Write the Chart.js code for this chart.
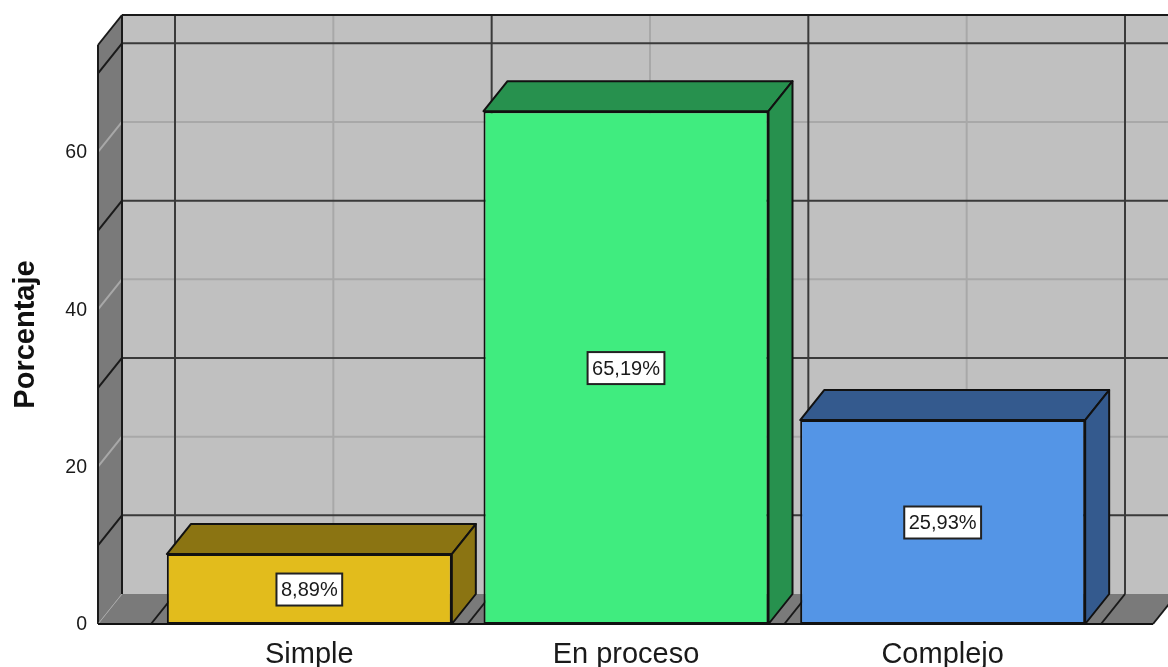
<!DOCTYPE html>
<html>
<head>
<meta charset="utf-8">
<style>
  html, body { margin: 0; background: #fff; overflow: hidden; }
  canvas { display: block; filter: blur(0.4px); }
</style>
<script src="https://cdn.jsdelivr.net/npm/chart.js@4/dist/chart.umd.min.js"></script>
</head>
<body>
<canvas id="chart" width="1168" height="667"></canvas>
<script>
// Data
const categories = ['Simple', 'En proceso', 'Complejo'];
const percentages = [8.89, 65.19, 25.93];
const yTickValues = [0, 20, 40, 60];
const darkGridValues = [10, 30, 50, 70];
const lightGridValues = [20, 40, 60];
const frontColors = ['#e2bc1c', '#40ec7f', '#5495e6'];
const sideColors = ['#8b7412', '#27914e', '#345a8e'];

// Oblique depth of the 3D box
const DX = 24, DY = -30;
const FONT = '"Liberation Sans", Arial, sans-serif';

function poly(ctx, pts, fill, stroke, width) {
    ctx.beginPath();
    pts.forEach((p, i) => i ? ctx.lineTo(p[0], p[1]) : ctx.moveTo(p[0], p[1]));
    ctx.closePath();
    if (fill) { ctx.fillStyle = fill; ctx.fill(); }
    if (stroke) { ctx.strokeStyle = stroke; ctx.lineWidth = width; ctx.stroke(); }
}

function seg(ctx, x1, y1, x2, y2, color, width) {
    ctx.beginPath();
    ctx.moveTo(x1, y1);
    ctx.lineTo(x2, y2);
    ctx.strokeStyle = color;
    ctx.lineWidth = width;
    ctx.stroke();
}

// Walls and floor behind the bars
const box3d = {
    id: 'box3d',
    beforeDatasetsDraw(chart) {
        const { ctx, chartArea: a, scales: { x, y } } = chart;
        const left = a.left - 53, right = a.right + 52;
        const top = a.top, bottom = a.bottom;
        const step = x.getPixelForValue(1) - x.getPixelForValue(0);
        ctx.save();
        ctx.lineJoin = 'round';

        // back wall
        poly(ctx, [[left + DX, top + DY], [right + DX, top + DY], [right + DX, bottom + DY], [left + DX, bottom + DY]], '#c0c0c0');
        // left wall and floor
        poly(ctx, [[left, top], [left + DX, top + DY], [left + DX, bottom + DY], [left, bottom]], '#7a7a7a');
        poly(ctx, [[left, bottom], [left + DX, bottom + DY], [right + DX, bottom + DY], [right, bottom]], '#7a7a7a');

        // horizontal grid lines, back wall and left wall
        lightGridValues.forEach(v => {
            const py = y.getPixelForValue(v);
            seg(ctx, left + DX, py + DY, right + DX, py + DY, '#a8a8a8', 2);
            seg(ctx, left, py, left + DX, py + DY, '#a8a8a8', 2);
        });
        // vertical lines at the category centres, back wall only
        categories.forEach((c, i) => {
            const px = x.getPixelForValue(i);
            seg(ctx, px + DX, top + DY, px + DX, bottom + DY, '#a8a8a8', 2);
        });
        darkGridValues.forEach(v => {
            const py = y.getPixelForValue(v);
            seg(ctx, left + DX, py + DY, right + DX, py + DY, '#3a3a3a', 2);
            seg(ctx, left, py, left + DX, py + DY, '#1a1a1a', 2);
        });
        // vertical lines at the category boundaries
        for (let i = 0; i <= categories.length; i++) {
            const px = x.getPixelForValue(0) + (i - 0.5) * step;
            seg(ctx, px + DX, top + DY, px + DX, bottom + DY, '#3a3a3a', 2);
            seg(ctx, px + DX, bottom + DY, px, bottom, '#1a1a1a', 2);
        }

        // outline of the box
        seg(ctx, left, top, left + DX, top + DY, '#1a1a1a', 2);
        seg(ctx, left + DX, top + DY, left + DX, bottom + DY, '#1a1a1a', 2);
        seg(ctx, left + DX, top + DY, right + DX, top + DY, '#1a1a1a', 2);
        seg(ctx, left, top, left, bottom, '#1a1a1a', 2);
        seg(ctx, left, bottom, left + DX, bottom + DY, '#a8a8a8', 1);
        seg(ctx, left, bottom, right, bottom, '#111', 2);
        seg(ctx, right, bottom, right + DX, bottom + DY, '#1a1a1a', 2);
        ctx.restore();

        // top and side faces of the bars
        ctx.save();
        ctx.lineJoin = 'round';
        chart.getDatasetMeta(0).data.forEach((bar, i) => {
            const l = bar.x - bar.width / 2, r = bar.x + bar.width / 2;
            poly(ctx, [[l, bar.y], [l + DX, bar.y + DY], [r + DX, bar.y + DY], [r, bar.y]], sideColors[i], '#111', 2);
            poly(ctx, [[r, bar.y], [r + DX, bar.y + DY], [r + DX, bar.base + DY], [r, bar.base]], sideColors[i], '#111', 2);
        });
        ctx.restore();
    },
    afterDatasetsDraw(chart) {
        const { ctx } = chart;
        ctx.save();
        ctx.font = '20px ' + FONT;
        ctx.textAlign = 'center';
        ctx.textBaseline = 'middle';
        chart.getDatasetMeta(0).data.forEach((bar, i) => {
            const text = percentages[i].toFixed(2).replace('.', ',') + '%';
            const cy = (bar.y + bar.base) / 2 + 0.5;
            const w = ctx.measureText(text).width + 9;
            ctx.fillStyle = '#fff';
            ctx.fillRect(bar.x - w / 2, cy - 16, w, 32);
            ctx.strokeStyle = '#222';
            ctx.lineWidth = 2;
            ctx.strokeRect(bar.x - w / 2, cy - 16, w, 32);
            ctx.fillStyle = '#1a1a1a';
            ctx.fillText(text, bar.x, cy + 1);
        });
        ctx.restore();
    }
};

new Chart(document.getElementById('chart'), {
    type: 'bar',
    data: {
        labels: categories,
        datasets: [{
            data: percentages,
            backgroundColor: frontColors,
            borderColor: '#111',
            borderWidth: 2,
            borderSkipped: false,
            categoryPercentage: 1,
            barPercentage: 0.9
        }]
    },
    options: {
        responsive: false,
        animation: false,
        layout: { padding: { top: 45, right: 67 } },
        plugins: {
            legend: { display: false },
            tooltip: { enabled: false }
        },
        scales: {
            x: {
                grid: { display: false, drawTicks: false },
                border: { display: false },
                ticks: { color: '#1a1a1a', font: { family: FONT, size: 29 }, padding: 14, maxRotation: 0, autoSkip: false },
                afterFit(scale) { scale.height = 43; }
            },
            y: {
                min: 0,
                max: 73.6,
                grid: { display: false, drawTicks: false },
                border: { display: false },
                title: {
                    display: true,
                    text: 'Porcentaje',
                    color: '#111',
                    font: { family: FONT, size: 29, weight: 'bold' },
                    padding: { top: 9, bottom: 0 }
                },
                ticks: { color: '#1a1a1a', font: { family: FONT, size: 19.5 }, padding: 64, labelOffset: 1 },
                afterBuildTicks(scale) { scale.ticks = yTickValues.map(v => ({ value: v })); },
                afterFit(scale) {
                    // big tick padding must not eat into the plot height
                    scale.width = 151;
                    scale.paddingTop = 0;
                    scale.paddingBottom = 0;
                }
            }
        }
    },
    plugins: [box3d]
});
</script>
</body>
</html>
